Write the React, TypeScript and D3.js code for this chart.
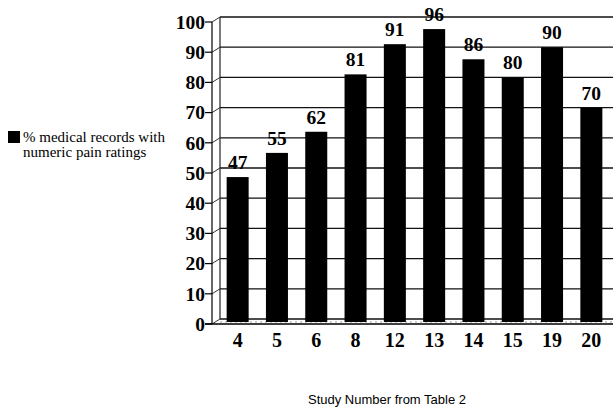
import React from "react";
import * as d3 from "d3";

const categories = ["4", "5", "6", "8", "12", "13", "14", "15", "19", "20"];
const values = [47, 55, 62, 81, 91, 96, 86, 80, 90, 70];
const yTicks = [0, 10, 20, 30, 40, 50, 60, 70, 80, 90, 100];
const legendLines = ["% medical records with", "numeric pain ratings"];
const xTitle = "Study Number from Table 2";

const W = 613;
const H = 411;
const DX = 8;
const DY = 5;

export default function App() {
  const x = d3.scaleBand<string>().domain(categories).range([218, 611]).paddingInner(0.44).paddingOuter(0.22);
  const y = d3.scaleLinear().domain([0, 100]).range([324, 22]);
  const yb = (v: number) => y(v) - DY;
  const serif = { fontFamily: "Liberation Serif, Tinos, DejaVu Serif, serif" };
  const left = 212;
  return (
    <svg width={W} height={H} style={{ position: "absolute", left: 0, top: 0, background: "#fff" }}>
      {yTicks.map((t) => (
        <line key={"g" + t} x1={left + DX} x2={W} y1={yb(t)} y2={yb(t)} stroke="#111" strokeWidth={1.3} />
      ))}
      <line x1={left + DX} x2={left + DX} y1={yb(100)} y2={yb(0)} stroke="#222" strokeWidth={1.2} />
      {yTicks.map((t) => (
        <line key={"d" + t} x1={left} x2={left + DX} y1={y(t)} y2={yb(t)} stroke="#333" strokeWidth={1} />
      ))}
      <line x1={left + DX} x2={W} y1={yb(0) + 3} y2={yb(0) + 3} stroke="#999" strokeWidth={1} strokeDasharray="2,3" />
      <line x1={left} x2={left} y1={y(100)} y2={y(0)} stroke="#000" strokeWidth={1.2} />
      <line x1={left - 7} x2={W} y1={y(0)} y2={y(0)} stroke="#000" strokeWidth={1.5} />
      {yTicks.map((t) => (
        <line key={"t" + t} x1={left - 7} x2={left} y1={y(t)} y2={y(t)} stroke="#000" strokeWidth={1.2} />
      ))}
      {yTicks.map((t) => (
        <text key={"l" + t} x={left - 7} y={y(t)} dy="0.35em" textAnchor="end" style={serif} fontWeight="bold" fontSize={19.5} fill="#000">
          {t}
        </text>
      ))}
      {categories.map((c, i) => (
        <g key={"b" + c}>
          <rect x={x(c)!} y={yb(values[i])} width={x.bandwidth()} height={y(0) - 2 - yb(values[i])} fill="#000" />
          <text x={x(c)! + x.bandwidth() / 2} y={yb(values[i]) - 8} textAnchor="middle" style={serif} fontWeight="bold" fontSize={19.5} fill="#000">
            {values[i]}
          </text>
          <text x={x(c)! + x.bandwidth() / 2} y={347} textAnchor="middle" style={serif} fontWeight="bold" fontSize={20} fill="#000">
            {c}
          </text>
        </g>
      ))}
      <rect x={8} y={131} width={12} height={12} fill="#000" />
      {legendLines.map((s, i) => (
        <text key={"lg" + i} x={23} y={142 + i * 15} style={serif} fontSize={15} fill="#000">
          {s}
        </text>
      ))}
      <text x={387} y={404} textAnchor="middle" style={{ fontFamily: "Liberation Sans, Arial, sans-serif" }} fontSize={13} fill="#000">
        {xTitle}
      </text>
    </svg>
  );
}
